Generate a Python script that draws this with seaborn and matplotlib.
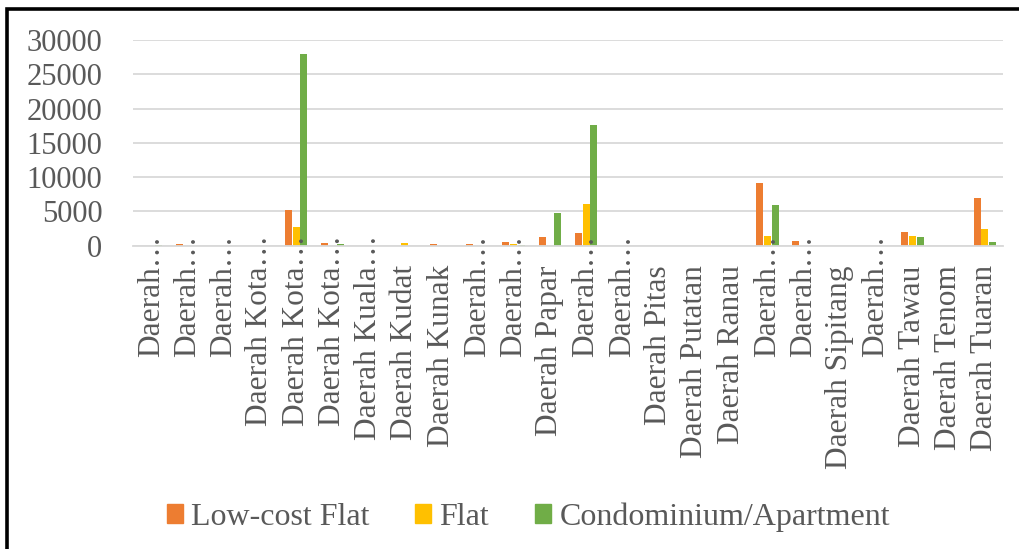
import matplotlib
matplotlib.use("Agg")
import matplotlib.pyplot as plt
import seaborn as sns
import pandas as pd
from matplotlib.patches import Rectangle

# ---- data ----
districts = [
    "Daerah…", "Daerah…", "Daerah…", "Daerah Kota…", "Daerah Kota…",
    "Daerah Kota…", "Daerah Kuala…", "Daerah Kudat", "Daerah Kunak",
    "Daerah…", "Daerah…", "Daerah Papar", "Daerah…", "Daerah…",
    "Daerah Pitas", "Daerah Putatan", "Daerah Ranau", "Daerah…",
    "Daerah…", "Daerah Sipitang", "Daerah…", "Daerah Tawau",
    "Daerah Tenom", "Daerah Tuaran",
]
low_cost_flat = [0, 200, 0, 0, 5200, 350, 0, 0, 300, 300, 600, 1300,
                 1850, 0, 0, 0, 0, 9100, 750, 0, 0, 2000, 0, 7000]
flat = [0, 0, 0, 0, 2800, 0, 0, 450, 0, 0, 300, 0,
        6100, 0, 0, 0, 0, 1400, 0, 0, 0, 1400, 0, 2400]
condo = [100, 0, 0, 0, 28000, 300, 0, 0, 0, 0, 150, 4700,
         17600, 0, 0, 0, 0, 6000, 0, 0, 0, 1200, 0, 600]
series_names = ["Low-cost Flat", "Flat", "Condominium/Apartment"]
colors = ["#ED7D31", "#FFC000", "#70AD47"]
yticks = [0, 5000, 10000, 15000, 20000, 25000, 30000]

# ---- build long table ----
rows = []
for name, vals in zip(series_names, [low_cost_flat, flat, condo]):
    for i, v in enumerate(vals):
        rows.append({"pos": i, "type": name, "value": v})
df = pd.DataFrame(rows)

sns.set_theme(style="white")
plt.rcParams["font.family"] = ["Liberation Serif", "DejaVu Serif"]
text_color = "#595959"
fs = 22

fig = plt.figure(figsize=(10.2, 5.49), dpi=100)
W, H = 1020, 549
ax = fig.add_axes([133 / W, 1 - 245.7 / H, (1003 - 133) / W, (245.7 - 40) / H])

sns.barplot(data=df, x="pos", y="value", hue="type", hue_order=series_names,
            palette=colors, width=0.64, gap=0.08, ax=ax, legend=False,
            saturation=1, linewidth=0, errorbar=None)

ax.set_ylim(0, 30000)
ax.set_xlim(-0.5, len(districts) - 0.5)
ax.set_yticks(yticks)
ax.set_yticklabels([str(t) for t in yticks], fontsize=fs, color=text_color)
ax.tick_params(axis="y", length=0, pad=22)
ax.tick_params(axis="x", length=0)
ax.set_xticklabels([])
ax.set_xlabel("")
ax.set_ylabel("")
ax.yaxis.grid(True, color="#d9d9d9", linewidth=1.3)
ax.set_axisbelow(True)
for s in ["top", "right", "left"]:
    ax.spines[s].set_visible(False)
ax.spines["bottom"].set_color("#d9d9d9")
ax.spines["bottom"].set_linewidth(1.3)

# category labels (ellipsis protrudes above the others as in the source)
for i, lab in enumerate(districts):
    off = 8 if lab.endswith("…") else -14
    ax.annotate(lab, xy=(i, 0), xycoords=("data", "axes fraction"),
                xytext=(0, off), textcoords="offset points",
                rotation=90, ha="center", va="top", fontsize=22.6,
                color=text_color, annotation_clip=False)

handles = [Rectangle((0, 0), 1, 1, color=c) for c in colors]
fig.legend(handles, series_names, loc="center", bbox_to_anchor=(0.518, 1 - 517 / H),
           ncol=3, frameon=False, fontsize=23, handlelength=0.5, handleheight=0.5,
           handletextpad=0.25, columnspacing=1.45, labelcolor=text_color)

# outer black frame (left and top visible)
fig.patches.append(Rectangle((7.5 / W, -0.1), 1.2, 1.1 - 9.5 / H,
                             transform=fig.transFigure, fill=False,
                             edgecolor="black", linewidth=2.6, clip_on=False))

fig.savefig("out.png", dpi=100)
